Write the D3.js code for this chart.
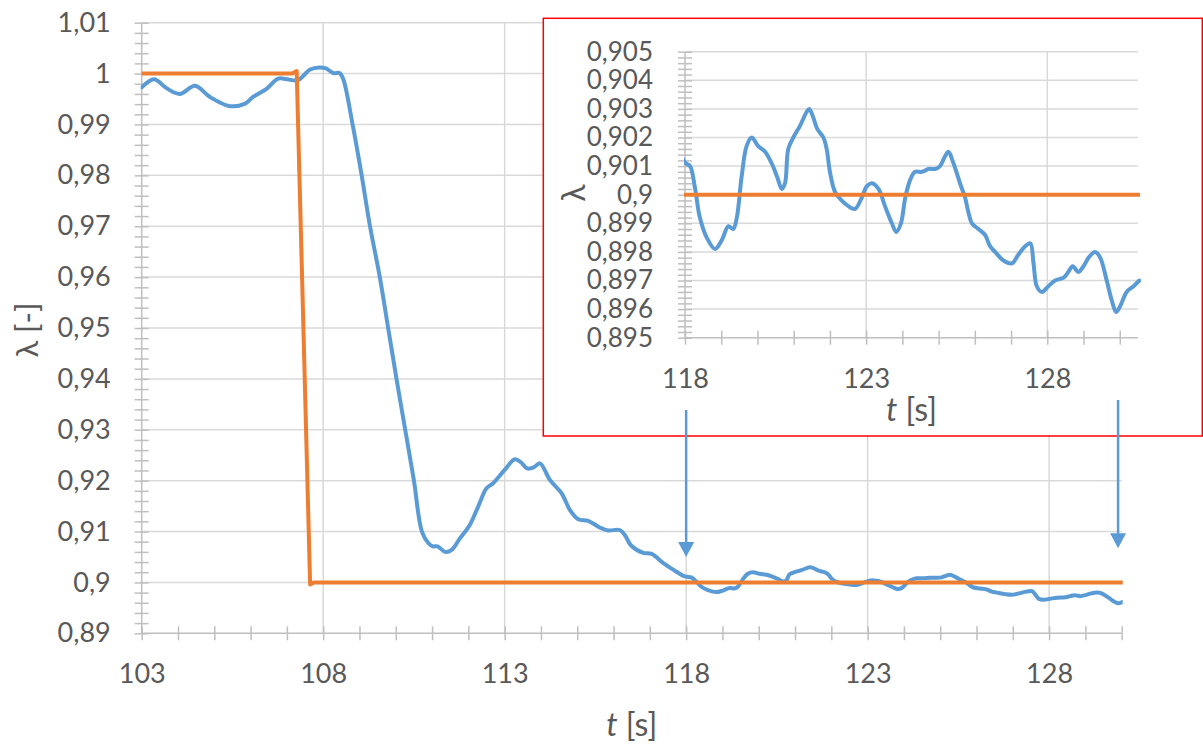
<!DOCTYPE html>
<html><head><meta charset="utf-8">
<script src="https://cdn.jsdelivr.net/npm/d3@7"></script>
<style>
html,body{margin:0;padding:0;background:#fff;}
svg{display:block;}
text{font-family:Lato,"Open Sans",sans-serif;fill:#595959;}
</style></head><body>
<svg id="chart" width="1203" height="744"></svg>
<script>
// ---------- data ----------
const actualT = [103.00,103.34,103.69,104.05,104.47,104.88,105.43,105.85,106.07,106.44,106.76,107.00,107.30,107.64,107.90,108.08,108.28,108.45,108.55,108.81,109.06,109.29,109.56,109.79,110.02,110.26,110.50,110.72,110.90,111.02,111.15,111.36,111.54,111.77,112.04,112.27,112.50,112.68,113.00,113.28,113.45,113.62,113.80,113.97,114.25,114.57,114.80,115.03,115.30,115.62,115.85,116.17,116.31,116.49,116.82,117.05,117.37,117.69,117.92,118.02,118.14,118.28,118.41,118.60,118.83,119.01,119.20,119.33,119.43,119.56,119.70,119.84,120.02,120.21,120.39,120.55,120.67,120.76,120.85,120.99,121.17,121.36,121.43,121.54,121.65,121.82,121.91,122.00,122.14,122.32,122.51,122.69,122.88,123.02,123.16,123.34,123.52,123.71,123.83,123.96,124.08,124.21,124.35,124.54,124.72,124.90,125.04,125.16,125.27,125.41,125.59,125.73,125.82,125.92,126.10,126.28,126.42,126.56,126.79,127.02,127.20,127.39,127.53,127.62,127.71,127.85,128.03,128.22,128.45,128.58,128.70,128.86,129.00,129.14,129.32,129.46,129.64,129.78,129.90,130.01,130.19,130.38,130.54];
const actualLambda = [0.9973,0.9989,0.9971,0.9960,0.9976,0.9954,0.9936,0.9941,0.9954,0.9970,0.9990,0.9989,0.9987,1.0008,1.0012,1.0010,1.0001,1.0001,0.9990,0.9900,0.9800,0.9700,0.9600,0.9500,0.9400,0.9300,0.9200,0.9100,0.9077,0.9071,0.9071,0.9060,0.9064,0.9087,0.9113,0.9149,0.9185,0.9195,0.9221,0.9242,0.9236,0.9224,0.9226,0.9234,0.9201,0.9175,0.9142,0.9124,0.9121,0.9108,0.9102,0.9103,0.9093,0.9072,0.9058,0.9056,0.9038,0.9023,0.9013,0.9011,0.9010,0.9002,0.8992,0.8985,0.8981,0.8984,0.8989,0.8988,0.8992,0.9006,0.9017,0.9020,0.9017,0.9015,0.9011,0.9006,0.9002,0.9004,0.9016,0.9020,0.9024,0.9029,0.9030,0.9027,0.9023,0.9020,0.9016,0.9008,0.9001,0.8998,0.8996,0.8995,0.8999,0.9003,0.9004,0.9002,0.8996,0.8990,0.8987,0.8990,0.8999,0.9005,0.9008,0.9008,0.9009,0.9009,0.9010,0.9013,0.9015,0.9011,0.9004,0.8999,0.8994,0.8990,0.8988,0.8986,0.8982,0.8980,0.8977,0.8976,0.8979,0.8982,0.8983,0.8976,0.8968,0.8966,0.8968,0.8970,0.8971,0.8973,0.8975,0.8973,0.8975,0.8978,0.8980,0.8978,0.8970,0.8963,0.8959,0.8961,0.8966,0.8968,0.8970];
const setT = [103, 107.15, 107.27, 107.64, 107.74, 130.56];
const setLambda = [1.0, 1.0, 1.0005, 0.8996, 0.9, 0.9];

const mainXTicks = [103, 108, 113, 118, 123, 128];
const mainYTicks = [0.89,0.90,0.91,0.92,0.93,0.94,0.95,0.96,0.97,0.98,0.99,1.00,1.01];
const insetXTicks = [118, 123, 128];
const insetYTicks = [0.895,0.896,0.897,0.898,0.899,0.900,0.901,0.902,0.903,0.904,0.905];
const arrowTimes = [118, 129.9];

const mainXLabel = "t", mainXUnit = " [s]";
const mainYLabel = "λ [-]";
const insetYLabel = "λ";

// ---------- setup ----------
const BLUE = "#5B9BD5", ORANGE = "#ED7D31", GRID = "#D9D9D9", AXIS = "#BFBFBF";
const svg = d3.select("#chart");
const defs = svg.append("defs");
const loc = d3.formatLocale({decimal: ",", thousands: "\u00a0", grouping: [3], currency: ["", ""]});
const fmt = v => loc.format("~r")(+v.toFixed(3));
const rangeStep = (a, b, s) => d3.range(0, Math.round((b - a) / s) + 1).map(i => +(a + i * s).toFixed(5));

function drawPanel(g, x, y, opt) {
  const [x0, x1] = x.range(), [yb, yt] = y.range();
  g.append("g").selectAll("line").data(opt.yGrid).join("line")
    .attr("x1", x0).attr("x2", x1).attr("y1", d => y(d)).attr("y2", d => y(d))
    .attr("stroke", GRID).attr("stroke-width", 1.5);
  g.append("g").selectAll("line").data(opt.xGrid).join("line")
    .attr("y1", yb).attr("y2", yt).attr("x1", d => x(d)).attr("x2", d => x(d))
    .attr("stroke", GRID).attr("stroke-width", 1.5);

  const yL = g.append("g").attr("transform", `translate(${x0},0)`)
    .call(d3.axisLeft(y).tickValues(opt.yMinor).tickSize(7).tickFormat(""));
  const yR = g.append("g").attr("transform", `translate(${x0},0)`)
    .call(d3.axisRight(y).tickValues(opt.yMinor).tickSize(7).tickFormat(""));
  const xB = g.append("g").attr("transform", `translate(0,${yb})`)
    .call(d3.axisBottom(x).tickValues(opt.xMinor).tickSize(7).tickFormat(""));
  const xT = g.append("g").attr("transform", `translate(0,${yb})`)
    .call(d3.axisTop(x).tickValues(opt.xMinor).tickSize(7).tickFormat(""));
  [yL, yR, xB, xT].forEach(a => {
    a.selectAll("line").attr("stroke", AXIS).attr("stroke-width", 1.5);
    a.select(".domain").attr("stroke", AXIS).attr("stroke-width", 1.5);
  });
  yR.select(".domain").remove(); xT.select(".domain").remove();
  yL.select(".domain").attr("d", `M0,${yb}V${yt}`);
  xB.select(".domain").attr("d", `M${x0},0H${x1}`);

  const yLab = g.append("g").attr("transform", `translate(${x0},0)`)
    .call(d3.axisLeft(y).tickValues(opt.yTicks).tickSize(0).tickPadding(opt.yPad).tickFormat(fmt));
  yLab.select(".domain").remove();
  yLab.selectAll("text").attr("font-size", opt.fs).attr("font-family", null).attr("fill", "#595959");
  const xLab = g.append("g").attr("transform", `translate(0,${yb})`)
    .call(d3.axisBottom(x).tickValues(opt.xTicks).tickSize(0).tickPadding(31).tickFormat(d3.format("d")));
  xLab.select(".domain").remove();
  xLab.selectAll("text").attr("font-size", 27).attr("font-family", null).attr("fill", "#595959");

  defs.append("clipPath").attr("id", opt.clip).append("rect")
    .attr("x", x0 - 1).attr("y", opt.clipY[0]).attr("width", x1 - x0 + opt.clipExtra)
    .attr("height", opt.clipY[1] - opt.clipY[0]);
  const lineA = d3.line().x((d, i) => x(actualT[i])).y(d => y(d)).curve(d3.curveCatmullRom.alpha(0.5));
  const lineS = d3.line().x((d, i) => x(setT[i])).y(d => y(d));
  const lg = g.append("g").attr("clip-path", `url(#${opt.clip})`);
  lg.append("path").attr("d", lineA(actualLambda)).attr("fill", "none")
    .attr("stroke", BLUE).attr("stroke-width", 4).attr("stroke-linejoin", "round").attr("stroke-linecap", "round");
  lg.append("path").attr("d", lineS(setLambda)).attr("fill", "none")
    .attr("stroke", ORANGE).attr("stroke-width", 4).attr("stroke-linejoin", "round");
}

// ---------- main chart ----------
const xMain = d3.scaleLinear().domain([103, 130]).range([141.7, 1121.7]);
const yMain = d3.scaleLinear().domain([0.89, 1.01]).range([633.3, 22.7]);
const gMain = svg.append("g");
drawPanel(gMain, xMain, yMain, {
  yGrid: mainYTicks.slice(1), xGrid: mainXTicks.slice(1),
  yMinor: rangeStep(0.89, 1.01, 0.002), xMinor: rangeStep(103, 130, 1),
  yTicks: mainYTicks, xTicks: mainXTicks, yPad: 31, fs: 27,
  clip: "clipMain", clipY: [0, 744], clipExtra: 2
});
const xt = gMain.append("text").attr("x", (xMain.range()[0] + xMain.range()[1]) / 2).attr("y", 736)
  .attr("text-anchor", "middle").attr("font-size", 32);
xt.append("tspan").attr("font-style", "italic").text(mainXLabel);
xt.append("tspan").text(mainXUnit);
gMain.append("text").attr("transform", "translate(38,330) rotate(-90)")
  .attr("text-anchor", "middle").attr("font-size", 31).text(mainYLabel);

// ---------- inset ----------
svg.append("rect").attr("x", 543.3).attr("y", 18.3).attr("width", 659).attr("height", 417.7)
  .attr("fill", "#fff").attr("stroke", "#FF0000").attr("stroke-width", 1.5);
const xIn = d3.scaleLinear().domain([118, 130.5]).range([685, 685 + 12.5 * 36.23]);
const yIn = d3.scaleLinear().domain([0.895, 0.905]).range([337.7, 51.7]);
const gIn = svg.append("g");
drawPanel(gIn, xIn, yIn, {
  yGrid: insetYTicks.slice(1), xGrid: insetXTicks.slice(1),
  yMinor: rangeStep(0.895, 0.905, 0.0002), xMinor: rangeStep(118, 130, 1),
  yTicks: insetYTicks, xTicks: insetXTicks, yPad: 32, fs: 26,
  clip: "clipInset", clipY: [20, 345], clipExtra: 4
});
const it = gIn.append("text").attr("x", (xIn.range()[0] + xIn.range()[1]) / 2).attr("y", 421)
  .attr("text-anchor", "middle").attr("font-size", 32);
it.append("tspan").attr("font-style", "italic").text(mainXLabel);
it.append("tspan").text(mainXUnit);
gIn.append("text").attr("transform", "translate(585,193) rotate(-90)")
  .attr("text-anchor", "middle").attr("font-size", 32).text(insetYLabel);

// ---------- arrows ----------
const arrowStart = [410, 400];
const arrowTip = [0.9050, 0.9067];
const ga = svg.append("g");
arrowTimes.forEach((t, i) => {
  const ax = xMain(t), y0 = arrowStart[i], y1 = yMain(arrowTip[i]);
  ga.append("line").attr("x1", ax).attr("x2", ax).attr("y1", y0).attr("y2", y1 - 10)
    .attr("stroke", BLUE).attr("stroke-width", 2.5);
  ga.append("path").attr("d", `M${ax - 8},${y1 - 15}L${ax + 8},${y1 - 15}L${ax},${y1}Z`).attr("fill", BLUE);
});
</script>
</body></html>
